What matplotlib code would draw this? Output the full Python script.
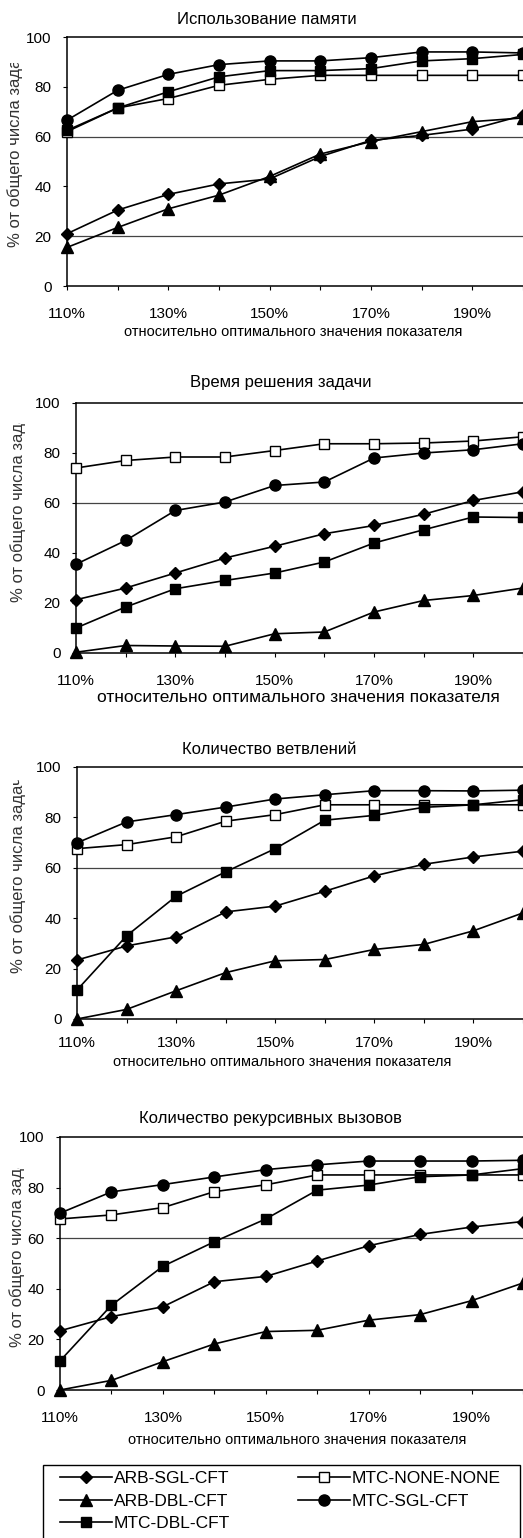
import matplotlib
matplotlib.use("Agg")
import matplotlib.pyplot as plt
from matplotlib.lines import Line2D
from matplotlib.patches import Rectangle
from matplotlib.transforms import Bbox, TransformedBbox

plt.rcParams['font.family'] = ['Liberation Sans', 'DejaVu Sans']

x_pct = [110, 120, 130, 140, 150, 160, 170, 180, 190, 200]
x_ticklabels = ["110%", "", "130%", "", "150%", "", "170%", "", "190%", ""]
y_ticks = [0, 20, 40, 60, 80, 100]

series_names = ["ARB-SGL-CFT", "ARB-DBL-CFT", "MTC-DBL-CFT", "MTC-NONE-NONE", "MTC-SGL-CFT"]

titles = ["Использование памяти", "Время решения задачи",
          "Количество ветвлений", "Количество рекурсивных вызовов"]
xlabel = "относительно оптимального значения показателя"
ylabel = "% от общего числа задач"

# Использование памяти
mem_arb_sgl = [21, 30.5, 36.8, 41, 43, 52, 58.5, 60.5, 63, 68.5]
mem_arb_dbl = [15.5, 23.5, 31, 36.5, 44, 53, 58, 62, 66, 67.5]
mem_mtc_dbl = [62.5, 71.5, 78, 84, 86.5, 86.5, 87.3, 90.4, 91.3, 93]
mem_mtc_none = [62, 71.5, 75.3, 80.6, 83, 84.6, 84.6, 84.6, 84.6, 84.6]
mem_mtc_sgl = [66.6, 78.6, 85, 88.9, 90.4, 90.4, 91.7, 94, 94, 93.6]

# Время решения задачи
time_arb_sgl = [21.3, 26, 32, 38, 42.7, 47.7, 51, 55.5, 61, 64.5]
time_arb_dbl = [0.3, 3, 2.8, 2.7, 7.7, 8.4, 16.4, 21, 23, 26]
time_mtc_dbl = [10, 18.4, 25.7, 29, 32, 36.4, 44, 49.3, 54.4, 54.2]
time_mtc_none = [74, 77, 78.4, 78.4, 81, 83.7, 83.7, 84, 84.8, 86.5]
time_mtc_sgl = [35.5, 45, 57, 60.4, 67, 68.4, 78, 80, 81.3, 83.7]

# Количество ветвлений
br_arb_sgl = [23.4, 29, 32.6, 42.5, 44.8, 50.7, 56.8, 61.4, 64.3, 66.6]
br_arb_dbl = [0, 3.8, 11.2, 18.4, 23.1, 23.6, 27.6, 29.6, 35, 42.1]
br_mtc_dbl = [11.5, 33, 48.7, 58.4, 67.6, 78.9, 80.8, 84, 85, 87]
br_mtc_none = [67.6, 69.2, 72.3, 78.5, 81.1, 85, 85, 85, 85, 85]
br_mtc_sgl = [69.9, 78.2, 81.1, 84.1, 87.3, 89, 90.6, 90.6, 90.5, 90.8]

# Количество рекурсивных вызовов
rec_arb_sgl = [23.4, 29, 32.9, 42.8, 44.9, 51, 57, 61.5, 64.4, 66.6]
rec_arb_dbl = [0, 3.8, 11.2, 18.2, 23.1, 23.6, 27.6, 29.8, 35.3, 42.3]
rec_mtc_dbl = [11.5, 33.5, 48.9, 58.6, 67.6, 79, 81, 84.3, 85, 87.5]
rec_mtc_none = [67.6, 69.2, 72.1, 78.4, 81.1, 85, 85, 85, 85, 85]
rec_mtc_sgl = [69.9, 78.3, 81.2, 84.2, 87.1, 89, 90.5, 90.5, 90.5, 90.8]

panels = [
    [mem_arb_sgl, mem_arb_dbl, mem_mtc_dbl, mem_mtc_none, mem_mtc_sgl],
    [time_arb_sgl, time_arb_dbl, time_mtc_dbl, time_mtc_none, time_mtc_sgl],
    [br_arb_sgl, br_arb_dbl, br_mtc_dbl, br_mtc_none, br_mtc_sgl],
    [rec_arb_sgl, rec_arb_dbl, rec_mtc_dbl, rec_mtc_none, rec_mtc_sgl],
]

W, H = 523, 1538
fig = plt.figure(figsize=(W / 100, H / 100), dpi=100)

# marker, size, facecolor, zorder
styles = [("D", 6, "black", 3), ("^", 8, "black", 3), ("s", 7, "black", 5),
          ("s", 7, "white", 4), ("o", 8, "black", 6)]

# layout in pixels: x of 110%, top, bottom, tick pad, grid lines,
# title y/x, xlabel y/x/size, ylabel x/bottom/clip top
layout = [
    (67, 37, 286, 12, [20, 60], 19, 267, 332, 293, 10.5, 15, 247, 63),
    (76, 403, 653, 12, [60], 383, 281, 698, 298, 12.5, 18, 602, 423),
    (77, 767, 1019, 9, [60], 749, 269, 1062, 282, 10.5, 18, 973, 780),
    (60, 1137, 1390, 12, [60], 1118, 270, 1440, 297, 10.5, 17, 1347, 1168),
]

x_right = 530
for data, lay, title in zip(panels, layout, titles):
    x0, top, bot, pad, grid, ty, tx, ly, lx, lsize, yx, yb, yt = lay
    ax = fig.add_axes([x0 / W, 1 - bot / H, (x_right - x0) / W, (bot - top) / H])
    ax.set_xlim(110, 110 + 90 * (x_right - x0) / (523 - x0))
    ax.set_ylim(0, 100)
    for g in grid:
        ax.axhline(g, color="#444444", lw=0.9, zorder=1)
    for vals, (m, ms, fc, z) in zip(data, styles):
        ax.plot(x_pct, vals, color="black", lw=1.2, marker=m, ms=ms,
                mfc=fc, mec="black", mew=1.0, zorder=z, clip_on=False)
    ax.set_xticks(x_pct)
    ax.set_xticklabels(x_ticklabels)
    ax.set_yticks(y_ticks)
    ax.tick_params(axis="x", direction="out", length=3, width=0.8, pad=pad, labelsize=11)
    ax.tick_params(axis="y", direction="out", length=3, width=0.8, pad=8, labelsize=11)
    ax.spines["right"].set_visible(False)
    for s in ["top", "left", "bottom"]:
        ax.spines[s].set_linewidth(1.1)
    fig.text(tx / W, 1 - ty / H, title, ha="center", va="center", fontsize=12)
    fig.text(lx / W, 1 - ly / H, xlabel, ha="center", va="center", fontsize=lsize)
    t = fig.text(yx / W, 1 - yb / H, ylabel, rotation=90, ha="center", va="bottom",
                 fontsize=12, color="#333333")
    t.set_clip_box(TransformedBbox(Bbox.from_extents(0, 1 - yb / H - 0.01, 0.1, 1 - yt / H),
                                   fig.transFigure))
    t.set_clip_on(True)

# legend
fig.patches.append(Rectangle((43 / W, -0.01), (520 - 43) / W, 0.01 + 1 - 1465 / H,
                             transform=fig.transFigure, fill=False, ec="black", lw=1.0))
handles = []
for name, (m, ms, fc, z) in zip(series_names, styles):
    handles.append(Line2D([], [], color="black", lw=1.2, marker=m, ms=ms,
                          mfc=fc, mec="black", label=name))
leg1 = fig.legend(handles=handles[:3], loc="upper left", frameon=False,
                  bbox_to_anchor=(60 / W, 1 - 1471 / H), fontsize=12.5,
                  handlelength=3.0, handletextpad=0.1, labelspacing=0.42,
                  borderpad=0, borderaxespad=0)
leg2 = fig.legend(handles=handles[3:], loc="upper left", frameon=False,
                  bbox_to_anchor=(298 / W, 1 - 1471 / H), fontsize=12.5,
                  handlelength=3.0, handletextpad=0.1, labelspacing=0.42,
                  borderpad=0, borderaxespad=0)

fig.savefig("out.png", dpi=100)
